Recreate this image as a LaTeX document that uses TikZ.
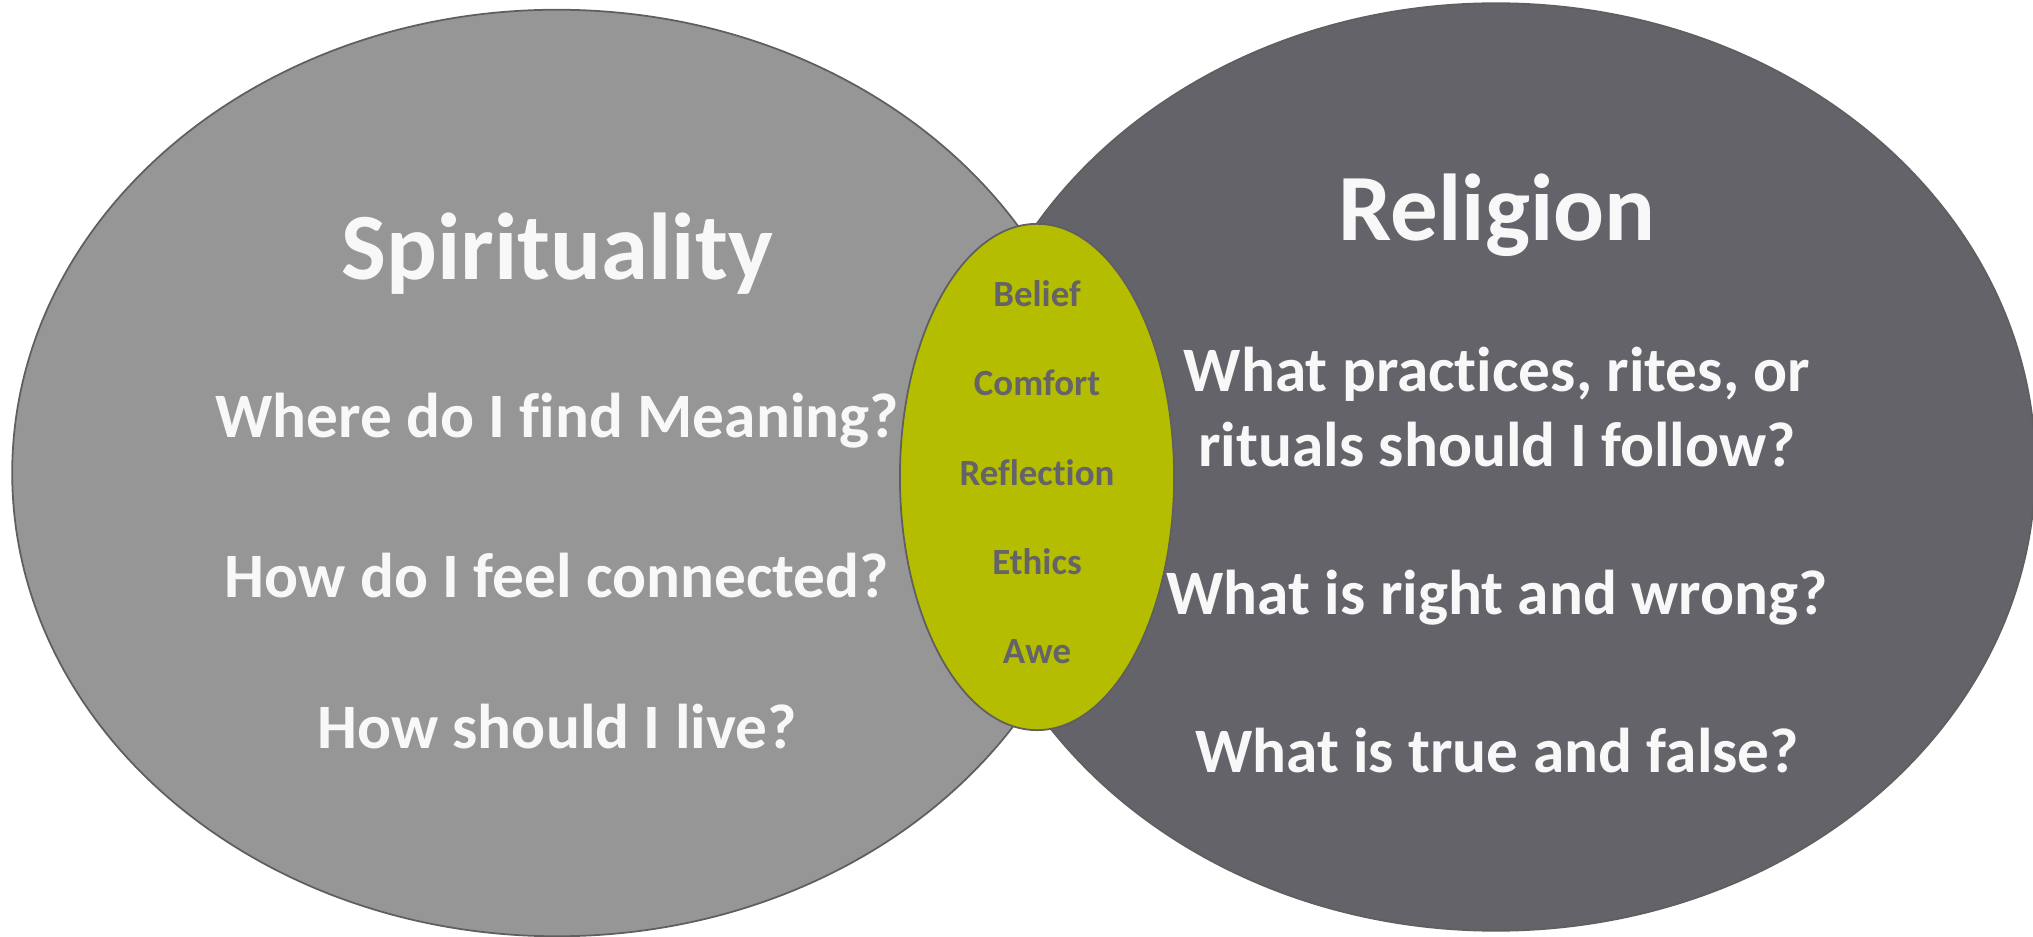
\documentclass[tikz,border=0pt]{standalone}
\usepackage{fontspec}
\setmainfont[Ligatures=NoCommon]{Carlito}
\usepackage{xcolor}
\usetikzlibrary{positioning,shapes.geometric}

\definecolor{spiritgray}{RGB}{150,150,150}
\definecolor{religiongray}{RGB}{100,99,105}
\definecolor{overlapgreen}{RGB}{181,189,0}
\definecolor{textwhite}{RGB}{248,248,248}
\definecolor{edgegray}{RGB}{95,95,95}

\begin{document}
\begin{tikzpicture}[
    x=0.01cm, y=-0.01cm,
    circlebig/.style={ellipse, draw=edgegray, line width=0.5pt, inner sep=0pt, outer sep=0pt},
    circlemid/.style={ellipse, draw=edgegray, line width=0.5pt, fill=overlapgreen, inner sep=0pt, outer sep=0pt, minimum width=2.74cm, minimum height=5.06cm},
    title/.style={font=\bfseries\fontsize{27}{32}\selectfont, text=textwhite, align=center},
    question/.style={font=\bfseries\fontsize{18}{21.5}\selectfont, text=textwhite, align=center},
    shared/.style={font=\bfseries\fontsize{10.5}{12}\selectfont, text=religiongray},
]
\useasboundingbox (0,0) rectangle (2033,937);

% === CIRCLES ===
\node[circlebig, fill=spiritgray, minimum width=10.89cm, minimum height=9.26cm] (spirit) at (557,473) {};
\node[circlebig, fill=religiongray, minimum width=10.78cm, minimum height=9.27cm] (religion) at (1496,467) {};
\node[circlemid] (overlap) at (1037,477) {};

% === TITLES ===
\node[title] (spirittitle) at (557,254) {Spirituality};
\node[title] (religiontitle) at (1497,215) {Religion};

% === LEFT QUESTIONS ===
\node[question] (meaning)   at (557,421) {Where do I find Meaning?};
\node[question] (connected) at (557,576) {How do I feel connected?};
\node[question] (live)      at (557,727) {How should I live?};

% === RIGHT QUESTIONS ===
\node[question] (practices) at (1497,407) {What practices, rites, or\\rituals should I follow?};
\node[question] (rightwrong) at (1497,598) {What is right and wrong?};
\node[question] (truefalse)  at (1497,751) {What is true and false?};

% === SHARED WORDS ===
\node[shared] (belief)     at (1037,294) {Belief};
\node[shared] (comfort)    at (1037,383) {Comfort};
\node[shared] (reflection) at (1037,473) {Reflection};
\node[shared] (ethics)     at (1037,562) {Ethics};
\node[shared] (awe)        at (1037,652) {Awe};

\end{tikzpicture}
\end{document}
